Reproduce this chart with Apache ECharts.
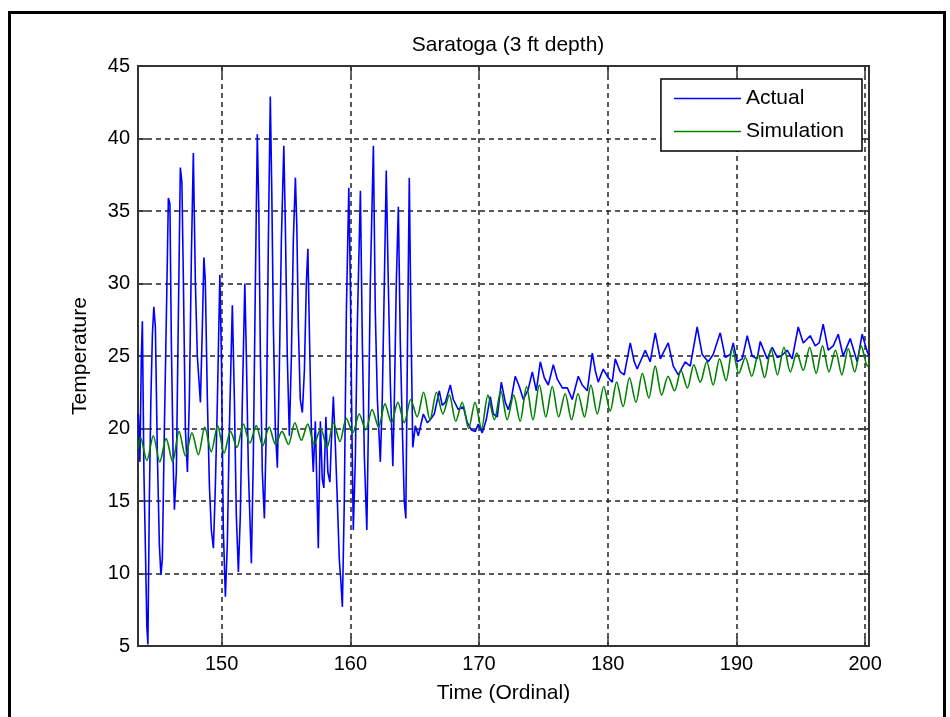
<!DOCTYPE html>
<html><head><meta charset="utf-8">
<script src="https://cdn.jsdelivr.net/npm/echarts@6/dist/echarts.min.js"></script>
<style>
html,body{margin:0;padding:0;background:#fff;overflow:hidden;}
#chart{position:absolute;left:0;top:0;width:950px;height:717px;}
#frame{position:absolute;left:8px;top:11px;width:938px;height:730px;border:3px solid #000;box-sizing:border-box;pointer-events:none;}
</style></head>
<body><div id="chart"></div><div id="frame"></div>
<script>
// ---- data ----
const actualTime = [
143.53,143.65,143.76,143.84,143.96,144.07,144.19,144.27,144.38,144.50,
144.62,144.73,144.85,145.01,145.16,145.28,145.39,145.55,145.71,145.86,
145.98,146.09,146.25,146.33,146.48,146.64,146.79,146.91,147.03,147.18,
147.34,147.49,147.65,147.80,147.96,148.11,148.35,148.50,148.62,148.73,
148.89,149.05,149.20,149.36,149.51,149.67,149.86,149.98,150.13,150.29,
150.44,150.60,150.83,150.99,151.14,151.30,151.45,151.61,151.80,151.92,
152.08,152.31,152.46,152.62,152.77,152.89,153.01,153.16,153.32,153.47,
153.63,153.78,153.90,154.02,154.17,154.33,154.48,154.64,154.83,154.95,
155.10,155.26,155.42,155.57,155.73,155.84,155.96,156.11,156.27,156.43,
156.58,156.70,156.81,156.97,157.12,157.28,157.51,157.67,157.82,157.94,
158.10,158.25,158.41,158.52,158.68,158.83,158.99,159.14,159.26,159.38,
159.53,159.69,159.88,160.00,160.12,160.23,160.39,160.54,160.78,160.93,
161.09,161.28,161.40,161.55,161.79,161.94,162.10,162.33,162.48,162.64,
162.79,162.95,163.11,163.30,163.42,163.57,163.73,163.88,164.04,164.19,
164.31,164.43,164.58,164.70,164.85,165.05,165.28,
165.67,165.98,166.21,166.52,166.91,167.14,167.38,167.77,168.00,168.39,
168.78,169.09,169.40,169.71,169.94,170.25,170.56,170.87,171.11,171.42,
171.73,172.04,172.27,172.50,172.81,173.13,173.44,173.82,174.14,174.45,
174.76,175.07,175.38,175.77,176.08,176.47,176.86,177.24,177.71,178.02,
178.41,178.80,179.03,179.26,179.65,180.04,180.35,180.58,180.97,181.28,
181.75,182.06,182.29,182.91,183.30,183.69,184.08,184.70,185.09,185.48,
186.02,186.41,186.95,187.34,187.81,188.19,188.74,189.13,189.52,189.75,
190.06,190.45,190.84,191.22,191.61,191.85,192.39,192.78,193.17,193.48,
193.94,194.33,194.80,195.19,195.73,196.12,196.43,196.74,197.13,197.52,
197.91,198.29,198.84,199.38,199.77,200.16,200.31
];
const actualTemp = [
21.0,17.7,25.0,27.4,17.0,12.0,6.3,5.1,15.0,22.0,
26.5,28.4,27.0,18.0,12.0,9.9,11.0,20.0,28.0,35.9,
35.5,26.0,17.0,14.4,17.0,28.0,38.0,37.0,30.0,20.0,
17.0,22.0,32.0,39.0,30.0,25.0,21.8,27.0,31.8,30.2,
22.0,16.0,13.0,11.75,16.0,22.0,30.6,25.0,13.0,8.4,
12.0,20.0,28.5,22.0,14.0,10.1,14.0,22.0,30.0,25.0,
17.0,10.7,18.0,30.0,40.3,35.0,25.0,17.0,13.8,20.0,
33.0,42.9,36.0,27.0,20.0,17.3,24.0,33.0,39.5,34.0,
25.0,19.5,25.0,33.0,37.3,34.0,27.0,22.0,21.1,24.0,
30.0,32.4,27.0,20.0,17.0,20.5,11.75,20.5,16.5,15.9,
20.8,17.0,16.3,19.0,22.2,19.0,15.0,11.0,9.5,7.7,
15.0,28.0,36.6,30.0,20.0,13.0,18.0,27.0,36.4,26.0,
18.0,13.0,20.0,30.0,39.5,28.0,22.0,17.7,22.0,30.0,
37.8,30.0,23.0,17.4,22.0,30.0,35.3,26.0,20.0,15.0,
13.8,25.0,37.3,28.0,18.7,20.2,19.5,
21.0,20.4,20.6,21.0,22.6,21.6,21.8,23.0,22.0,21.3,
21.5,20.4,19.9,19.8,20.3,19.7,20.6,22.2,21.0,20.8,
23.2,21.8,21.3,22.0,23.6,22.9,22.0,22.7,23.9,22.6,
24.6,23.5,23.0,24.4,23.4,22.8,22.8,22.0,23.6,23.0,
22.6,25.2,24.0,23.2,24.1,23.5,23.2,24.8,23.9,23.7,
25.9,24.6,24.1,25.4,24.6,26.6,24.8,25.9,24.3,23.7,
24.6,24.3,27.0,25.1,24.6,25.1,26.6,24.9,25.1,25.9,
24.6,24.8,26.4,25.0,24.8,26.0,24.8,25.6,24.9,25.0,
25.4,24.8,27.0,25.9,26.4,25.7,25.9,27.2,25.4,25.7,
26.5,25.0,26.2,24.6,26.5,25.3,25.0
];
const simTime = [
143.5,
143.69,144.19,144.69,145.19,145.69,146.19,146.69,147.19,147.69,148.19,
148.69,149.19,149.69,150.19,150.69,151.19,151.69,152.19,152.69,153.19,
153.69,154.19,154.69,155.19,155.69,156.19,156.69,157.19,157.69,158.19,
158.69,159.19,159.69,160.19,160.69,161.19,161.69,162.19,162.69,163.19,
163.69,164.19,164.69,165.19,165.69,166.19,166.69,167.19,167.69,168.19,
168.69,169.19,169.69,170.19,170.69,171.19,171.69,172.19,172.69,173.19,
173.69,174.19,174.69,175.19,175.69,176.19,176.69,177.19,177.69,178.19,
178.69,179.19,179.69,180.19,180.69,181.19,181.69,182.19,182.69,183.19,
183.69,184.19,184.69,185.19,185.69,186.19,186.69,187.19,187.69,188.19,
188.69,189.19,189.69,190.19,190.69,191.19,191.69,192.19,192.69,193.19,
193.69,194.19,194.69,195.19,195.69,196.19,196.69,197.19,197.69,198.19,
198.69,199.19,199.69,200.19,
200.3
];
const simTemp = [
18.6,
19.4,17.8,19.5,17.7,19.3,17.7,19.8,18.1,19.7,18.2,
20.1,18.4,20.2,18.3,19.8,18.7,20.3,19.0,20.2,18.8,
20.1,18.9,19.8,18.9,20.4,19.2,20.3,18.9,20.0,18.7,
20.4,19.1,20.7,19.7,21.0,19.9,21.3,20.1,21.7,20.4,
21.8,20.4,22.0,20.8,22.5,20.6,22.5,21.0,22.3,20.5,
21.8,20.0,21.8,20.0,22.3,20.6,22.6,20.6,22.3,20.5,
22.9,20.6,23.0,20.8,22.9,20.8,22.4,20.6,22.4,20.8,
23.0,21.0,22.9,21.2,23.2,21.5,23.5,21.8,23.8,22.1,
24.3,22.3,23.6,22.6,24.0,22.8,24.4,23.2,24.6,23.0,
24.8,23.3,25.5,23.8,24.9,23.6,25.1,23.5,25.5,23.7,
25.6,23.9,25.2,24.0,25.6,23.8,25.7,23.9,25.4,23.7,
25.5,23.9,25.7,24.3,
24.5
];
const seriesNames = ['Actual', 'Simulation'];
const chartTitle = 'Saratoga (3 ft depth)';
const xName = 'Time (Ordinal)';
const yName = 'Temperature';
const xMin = 143.5, xMax = 200.3;
const yMin = 5, yMax = 45, yStep = 5;

// ---- chart ----
const FONT = '"Liberation Sans", Arial, sans-serif';
const actualData = actualTime.map((t, i) => [t, actualTemp[i]]);
const simData = simTime.map((t, i) => [t, simTemp[i]]);
const axisCol = '#333';
const gridLine = {show: true, lineStyle: {color: '#222', width: 1.5, type: [5, 4]}};
const tickStyle = {show: true, inside: true, length: 9, lineStyle: {color: axisCol, width: 1.5}};
const lineAx = {show: true, onZero: false, lineStyle: {color: axisCol, width: 2}};

const chart = echarts.init(document.getElementById('chart'), null, {renderer: 'canvas'});
chart.setOption({
  animation: false,
  backgroundColor: '#fff',
  title: {
    text: chartTitle, left: 503, top: 30, textAlign: 'center',
    textStyle: {fontFamily: FONT, fontSize: 21, fontWeight: 'normal', color: '#000'}
  },
  legend: {
    orient: 'vertical', right: 88, top: 79,
    icon: 'rect', itemWidth: 67, itemHeight: 1.6, itemGap: 12,
    padding: [9, 18, 9, 13],
    borderColor: '#000', borderWidth: 1.5, backgroundColor: '#fff',
    textStyle: {fontFamily: FONT, fontSize: 21, color: '#000'},
    data: seriesNames
  },
  grid: {left: 138, right: 81, top: 66, bottom: 71, show: true, borderColor: axisCol, borderWidth: 2, backgroundColor: 'transparent', containLabel: false},
  xAxis: [{
    type: 'value', min: xMin, max: xMax, splitNumber: 5, position: 'bottom',
    name: xName, nameLocation: 'middle', nameGap: 37,
    nameTextStyle: {fontFamily: FONT, fontSize: 21, color: '#000'},
    axisLine: lineAx, axisTick: tickStyle,
    axisLabel: {fontFamily: FONT, fontSize: 20, color: '#000', margin: 8,
      formatter: v => (Math.abs(v % 10) < 1e-6 ? String(v) : '')},
    splitLine: gridLine
  }, {
    type: 'value', min: xMin, max: xMax, splitNumber: 5, position: 'top',
    axisLine: lineAx, axisTick: tickStyle, axisLabel: {show: false}, splitLine: {show: false}
  }],
  yAxis: [{
    type: 'value', min: yMin, max: yMax, interval: yStep, position: 'left',
    name: yName, nameLocation: 'middle', nameGap: 47,
    nameTextStyle: {fontFamily: FONT, fontSize: 21, color: '#000'},
    axisLine: lineAx, axisTick: tickStyle,
    axisLabel: {fontFamily: FONT, fontSize: 20, color: '#000', margin: 8},
    splitLine: gridLine
  }, {
    type: 'value', min: yMin, max: yMax, interval: yStep, position: 'right',
    axisLine: lineAx, axisTick: tickStyle, axisLabel: {show: false}, splitLine: {show: false}
  }],
  series: [{
    name: seriesNames[0], type: 'line', data: actualData, xAxisIndex: 0, yAxisIndex: 0,
    symbol: 'none', showSymbol: false, clip: true,
    lineStyle: {color: '#0000ff', width: 1.6}, itemStyle: {color: '#0000ff'}, z: 2
  }, {
    name: seriesNames[1], type: 'line', data: simData, xAxisIndex: 0, yAxisIndex: 0,
    symbol: 'none', showSymbol: false, clip: true, smooth: 0.3,
    lineStyle: {color: '#008000', width: 1.6}, itemStyle: {color: '#008000'}, z: 3
  }]
});
</script>
</body></html>
